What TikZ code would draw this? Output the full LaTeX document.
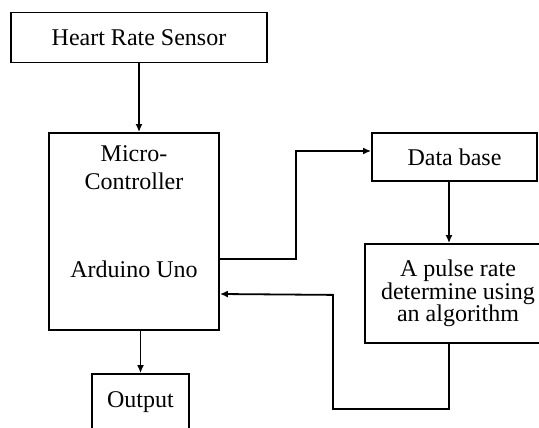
\documentclass[tikz,border=0pt]{standalone}
\usepackage{fontspec}
\setmainfont{Liberation Serif}
\usetikzlibrary{arrows.meta,positioning}

\begin{document}
\begin{tikzpicture}[x=1pt,y=-1pt,
		block/.style={draw,line width=1.8pt,inner sep=0pt,align=center,font=\fontsize{24}{28}\selectfont},
		blocktext/.style={inner sep=0pt,align=center,font=\fontsize{24}{28}\selectfont},
		link/.style={line width=1.8pt},
		arr/.style={link,-{Latex[length=8pt,width=7pt]}}]
		
		\useasboundingbox (0,0) rectangle (539,428);
		
		% Sensor
		\node[block, minimum width=256pt, minimum height=50pt] (sensor) at (139,37.5) {Heart Rate Sensor};
		
		% Micro controller (Arduino)
		\node[block, minimum width=170pt, minimum height=197pt] (mcu) at (134,231.5) {};
		\node[blocktext, below=13.5pt of mcu.north] (mcutitle) {Micro-\\Controller};
		\node[blocktext] (board) at (134,269) {Arduino Uno};
		
		% Output
		\node[block, minimum width=97pt, minimum height=56pt] (out) at (140.5,402) {Output};
		
		% Data base
		\node[block, minimum width=165pt, minimum height=48pt] (db) at (454.5,157) {Data base};
		
		% Pulse rate algorithm
		\node[block, minimum width=186pt, minimum height=99pt, font=\fontsize{24}{22.5}\selectfont] (algo) at (458,293.5) {A pulse rate\\determine using\\an algorithm};
		
		\coordinate (col) at (449,0); % column of the right hand links
		
		% Links
		\draw[arr] (sensor.south) -- (sensor.south |- mcu.north);
		\draw[arr] (out.north |- mcu.south) -- (out.north);
		\draw[arr] ([yshift=-27.5pt]mcu.east) -- ++(76,0) |- ([yshift=6pt]db.west);
		\draw[arr] (db.south -| col) -- (algo.north -| col);
		\draw[arr] (algo.south -| col) -- ++(0,65) -| ++(-116,-114) -- ([yshift=-62.5pt]mcu.east);
	\end{tikzpicture}
\end{document}
